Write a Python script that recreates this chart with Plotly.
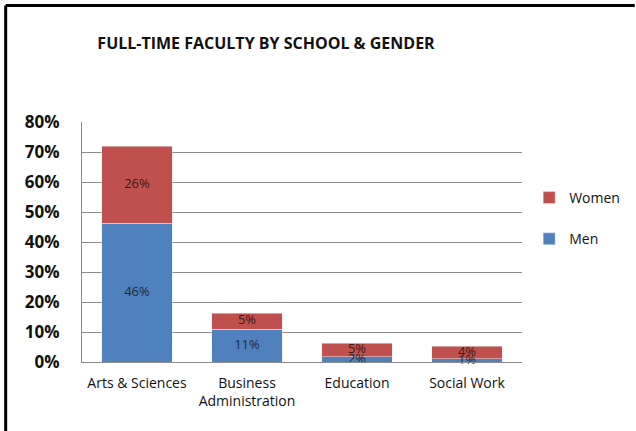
import plotly.graph_objects as go

# data
schools = ["Arts & Sciences", "Business<br>Administration", "Education", "Social Work"]
men = [46.2, 10.9, 1.7, 1.1]
women = [25.7, 5.4, 4.6, 4.2]

blue = "#4f81bd"
red = "#c0504d"
font = "Open Sans"

fig = go.Figure()
fig.add_trace(go.Bar(x=schools, y=men, name="Men", marker_color=blue,
                     legendgroup="m", legendrank=2, hoverinfo="skip"))
fig.add_trace(go.Bar(x=schools, y=women, name="Women", marker_color=red,
                     legendgroup="w", legendrank=1, hoverinfo="skip"))

# labels on top of every bar, centred in each segment
men_mid = [m / 2 for m in men]
women_mid = [m + w / 2 for m, w in zip(men, women)]
fig.add_trace(go.Scatter(x=schools, y=men_mid, mode="text", showlegend=False,
                         text=[f"{v:.0f}%" for v in men], cliponaxis=False,
                         textfont=dict(color="#1f2a3a", size=13, family=font)))
fig.add_trace(go.Scatter(x=schools, y=women_mid, mode="text", showlegend=False,
                         text=[f"{v:.0f}%" for v in women], cliponaxis=False,
                         textfont=dict(color="#3a1a1a", size=13, family=font)))

# frame on the top and left, like the original picture
l, r, t, b = 82, 113, 122, 69
pw, ph = 636 - l - r, 431 - t - b
fx = (5.5 - l) / pw
fy = 1 + (t - 5.5) / ph
fig.add_shape(type="line", xref="paper", yref="paper", x0=fx, x1=(636 - l) / pw,
              y0=fy, y1=fy, line=dict(color="black", width=3))
fig.add_shape(type="line", xref="paper", yref="paper", x0=fx, x1=fx,
              y0=fy, y1=-b / ph, line=dict(color="black", width=3))

fig.update_layout(
    width=636, height=431,
    barmode="stack", bargap=0.36,
    margin=dict(l=l, r=r, t=t, b=b),
    paper_bgcolor="white", plot_bgcolor="white",
    font=dict(family=font, color="#1a1a1a"),
    title=dict(text="FULL-TIME FACULTY BY SCHOOL & GENDER", x=266 / 636, xanchor="center",
               y=1 - 43 / 431, yanchor="middle",
               font=dict(size=16, family=font, weight="bold", color="#111")),
    legend=dict(x=1.014, y=0.75, xanchor="left", yanchor="top",
                traceorder="grouped", tracegroupgap=20,
                font=dict(size=14, color="#111"), itemwidth=30),
    showlegend=True,
)
fig.update_yaxes(range=[0, 80], dtick=10, ticksuffix="%", showgrid=True,
                 gridcolor="#8c8c8c", gridwidth=1, showline=True, linecolor="#8c8c8c",
                 ticks="", ticklabelstandoff=18, zeroline=False,
                 tickfont=dict(size=17, family=font, weight="bold", color="#111"))
fig.update_xaxes(showline=True, linecolor="#8c8c8c", ticks="", ticklabelstandoff=8,
                 tickfont=dict(size=14, family=font, color="#111"))

fig.write_html("out.html", config={"displayModeBar": False},
               post_script="document.body.style.margin='0';")
